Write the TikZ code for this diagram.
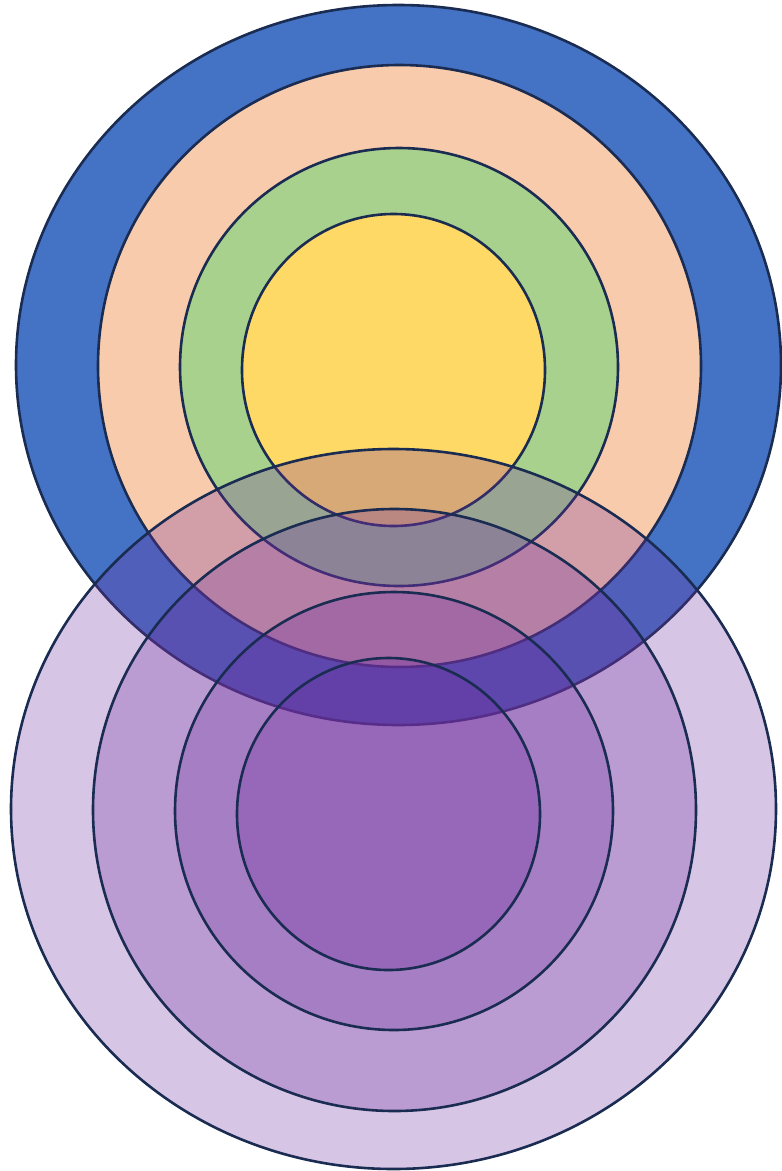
\documentclass[tikz,border=0pt]{standalone}
\definecolor{ringline}{HTML}{1B2C52}
\definecolor{cblue}{HTML}{4472C4}
\definecolor{cpeach}{HTML}{F8CBAD}
\definecolor{cgreen}{HTML}{A9D18E}
\definecolor{cyellow}{HTML}{FFD966}
\definecolor{cpurple}{HTML}{7030A0}
\tikzset{
  ring/.style={draw=ringline, line width=2.6pt},
  purplering/.style={ring, fill=cpurple, fill opacity=0.28, draw opacity=1},
}
\begin{document}
\begin{tikzpicture}[x=1pt,y=-1pt]
\useasboundingbox (0,0) rectangle (782,1171);
% top set
\draw[ring, fill=cblue]   (398.5,365) ellipse [x radius=382.5, y radius=360];
\draw[ring, fill=cpeach]  (399.5,366) ellipse [x radius=301.5, y radius=301];
\draw[ring, fill=cgreen]  (399,367) ellipse [x radius=219, y radius=219];
\draw[ring, fill=cyellow] (393.5,370) ellipse [x radius=151.5, y radius=156];
% bottom set
\begin{scope}[shift={(-5,444)}]
\draw[purplering] (398.5,365) ellipse [x radius=382.5, y radius=360];
\draw[purplering] (399.5,366) ellipse [x radius=301.5, y radius=301];
\draw[purplering] (399,367) ellipse [x radius=219, y radius=219];
\draw[purplering] (393.5,370) ellipse [x radius=151.5, y radius=156];
\end{scope}
\end{tikzpicture}
\end{document}
